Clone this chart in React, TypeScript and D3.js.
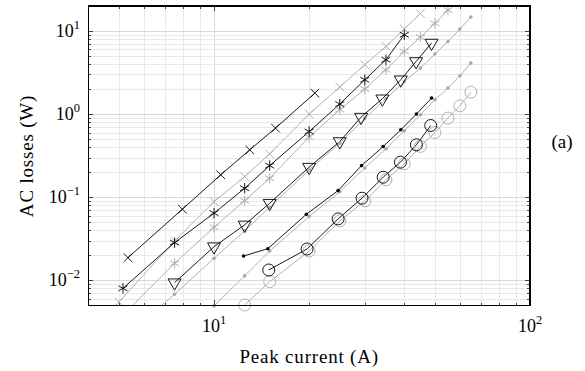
import React, { useEffect, useRef } from 'react';
import * as d3 from 'd3';

// axis ranges and tick labels
const xDomain = [4, 100];
const yDomain = [0.005, 20];
const xMajor = [10, 100];
const yMajor = [0.01, 0.1, 1, 10];
const xTickLabels = ['1', '2'];
const yTickLabels = ['\u22122', '\u22121', '0', '1'];

// [peak current (A), AC losses (W)]
const blackTimes = [[5.34, 0.0187], [7.94, 0.0717], [10.5, 0.186], [12.97, 0.371], [15.65, 0.678], [20.85, 1.79]];
const grayTimes = [[5, 0.00548], [7.5, 0.0298], [10, 0.0885], [12.5, 0.177], [15, 0.332], [20, 1.0], [25, 2.12], [30, 3.93], [35, 6.52], [40, 10.6], [45, 16.2]];
const blackAsterisk = [[5.15, 0.008], [7.5, 0.0284], [10, 0.0642], [12.5, 0.128], [15, 0.24], [20, 0.617], [25, 1.32], [30, 2.59], [35, 4.51], [40, 9.02]];
const grayAsterisk = [[5, 0.0034], [7.5, 0.016], [10, 0.0435], [12.5, 0.0907], [15, 0.169], [20, 0.528], [25, 1.13], [30, 2.0], [35, 3.42], [40, 5.68], [45, 8.42], [50, 12.35], [55, 17.9]];
const blackTriangle = [[7.5, 0.00936], [10, 0.0254], [12.5, 0.0464], [15, 0.0847], [20, 0.23], [25, 0.468], [29.2, 0.92], [34.1, 1.53], [39.0, 2.59], [43.6, 4.3], [48.8, 7.17]];
const grayDotsUpper = [[5, 0.0018], [7.5, 0.00678], [10, 0.0184], [12.5, 0.0393], [15, 0.0758], [20, 0.213], [25, 0.447], [30, 0.888], [35, 1.53], [40, 2.45], [45, 3.58], [50, 5.28], [55, 7.49], [60, 10.57], [65, 14.75]];
const blackDots = [[12.4, 0.0196], [14.8, 0.024], [19.6, 0.0624], [24.7, 0.12], [29.3, 0.24], [34.3, 0.407], [39.0, 0.647], [43.7, 1.0], [48.8, 1.56]];
const grayDotsLower = [[10, 0.0049], [12.5, 0.0113], [15, 0.0225], [20, 0.0584], [25, 0.116], [30, 0.225], [35, 0.382], [40, 0.629], [45, 0.981], [50, 1.49], [55, 2.06], [60, 2.89], [65, 4.12]];
const blackCircles = [[14.9, 0.0133], [19.7, 0.0238], [24.7, 0.0548], [29.4, 0.0973], [34.3, 0.174], [38.9, 0.264], [43.7, 0.427], [48.5, 0.729]];
const grayCircles = [[12.5, 0.00504], [15, 0.00962], [20, 0.0225], [25, 0.0518], [30, 0.0902], [35, 0.162], [40, 0.252], [45, 0.409], [50, 0.6], [55, 0.895], [60, 1.26], [65, 1.84]];

const GRAY = '#a8a8a8';
const FONT = "'Liberation Serif', serif";

const series = [
  { data: grayTimes, color: GRAY, mark: 'times' },
  { data: grayAsterisk, color: GRAY, mark: 'asterisk' },
  { data: grayDotsUpper, color: GRAY, mark: 'dot' },
  { data: grayDotsLower, color: GRAY, mark: 'dot' },
  { data: grayCircles, color: GRAY, mark: 'circle' },
  { data: blackTimes, color: '#000', mark: 'times' },
  { data: blackAsterisk, color: '#000', mark: 'asterisk' },
  { data: blackTriangle, color: '#000', mark: 'triangle' },
  { data: blackDots, color: '#000', mark: 'dot' },
  { data: blackCircles, color: '#000', mark: 'circle' },
];

function markPath(kind: string) {
  if (kind === 'times') {
    const r = 4.3;
    return `M${-r},${-r}L${r},${r}M${-r},${r}L${r},${-r}`;
  }
  if (kind === 'asterisk') {
    const r = 5.2, t = r / 2, u = t * Math.sqrt(3);
    return `M0,${-r}L0,${r}M${-u},${-t}L${u},${t}M${-u},${t}L${u},${-t}`;
  }
  if (kind === 'triangle') {
    const r = 7.5, w = r * 0.866;
    return `M${-w},${-r / 2}L${w},${-r / 2}L0,${r}Z`;
  }
  return '';
}

const App = () => {
  const svgRef = useRef<SVGSVGElement>(null);

  useEffect(() => {
    const width = 585;
    const height = 371;
    const left = 88.3, right = 530, top = 6, bottom = 305.3;

    const x = d3.scaleLog().domain(xDomain).range([left, right]);
    const y = d3.scaleLog().domain(yDomain).range([bottom, top]);

    const svg = d3.select(svgRef.current);
    svg.selectAll('*').remove();
    svg.attr('width', width).attr('height', height).attr('viewBox', [0, 0, width, height]);

    svg.append('defs').append('clipPath').attr('id', 'plot-clip')
      .append('rect').attr('x', left).attr('y', top).attr('width', right - left).attr('height', bottom - top);

    const isMajor = (v: number) => Math.abs(Math.log10(v) - Math.round(Math.log10(v))) < 1e-6;
    const xt = x.ticks().filter(v => v > xDomain[0] && v < xDomain[1]);
    const yt = y.ticks().filter(v => v > yDomain[0] && v < yDomain[1]);

    // grid
    const grid = svg.append('g').attr('shape-rendering', 'crispEdges');
    grid.selectAll('line.gx').data(xt).join('line')
      .attr('x1', d => Math.round(x(d)) + 0.5).attr('x2', d => Math.round(x(d)) + 0.5)
      .attr('y1', top).attr('y2', bottom)
      .attr('stroke', d => isMajor(d) ? '#d8d8d8' : '#e9e9e9').attr('stroke-width', 1);
    grid.selectAll('line.gy').data(yt).join('line')
      .attr('y1', d => Math.round(y(d)) + 0.5).attr('y2', d => Math.round(y(d)) + 0.5)
      .attr('x1', left).attr('x2', right)
      .attr('stroke', d => isMajor(d) ? '#d8d8d8' : '#e9e9e9').attr('stroke-width', 1);

    // series lines
    const line = d3.line<number[]>().x(d => x(d[0])).y(d => y(d[1]));
    const lines = svg.append('g').attr('clip-path', 'url(#plot-clip)');
    series.forEach(s => {
      lines.append('path')
        .attr('d', line(s.data))
        .attr('fill', 'none')
        .attr('stroke', s.color)
        .attr('stroke-width', 0.9)
        .attr('stroke-linejoin', 'round');
    });

    // markers (not clipped, like pgfplots)
    const marks = svg.append('g');
    series.forEach(s => {
      const pts = s.data.filter(d => d[1] >= yDomain[0] * 0.98);
      const g = marks.append('g');
      if (s.mark === 'circle') {
        g.selectAll('circle').data(pts).join('circle')
          .attr('cx', d => x(d[0])).attr('cy', d => y(d[1])).attr('r', 6)
          .attr('fill', 'none').attr('stroke', s.color).attr('stroke-width', 0.9);
      } else if (s.mark === 'dot') {
        g.selectAll('circle').data(pts).join('circle')
          .attr('cx', d => x(d[0])).attr('cy', d => y(d[1])).attr('r', 1.8)
          .attr('fill', s.color);
      } else {
        g.selectAll('path').data(pts).join('path')
          .attr('transform', d => `translate(${x(d[0])},${y(d[1])})`)
          .attr('d', markPath(s.mark))
          .attr('fill', 'none').attr('stroke', s.color).attr('stroke-width', 0.9);
      }
    });

    // frame and ticks
    const axes = svg.append('g').attr('stroke', '#000').attr('shape-rendering', 'crispEdges');
    axes.append('rect').attr('x', left).attr('y', top).attr('width', right - left).attr('height', bottom - top)
      .attr('fill', 'none').attr('stroke-width', 1.1);
    const tickLen = (d: number) => isMajor(d) ? 5 : 2.8;
    xt.forEach(d => {
      const px = Math.round(x(d)) + 0.5;
      axes.append('line').attr('x1', px).attr('x2', px).attr('y1', bottom).attr('y2', bottom - tickLen(d)).attr('stroke-width', 0.7);
      axes.append('line').attr('x1', px).attr('x2', px).attr('y1', top).attr('y2', top + tickLen(d)).attr('stroke-width', 0.7);
    });
    yt.forEach(d => {
      const py = Math.round(y(d)) + 0.5;
      axes.append('line').attr('y1', py).attr('y2', py).attr('x1', left).attr('x2', left + tickLen(d)).attr('stroke-width', 0.7);
      axes.append('line').attr('y1', py).attr('y2', py).attr('x1', right).attr('x2', right - tickLen(d)).attr('stroke-width', 0.7);
    });

    // tick labels
    const labels = svg.append('g').attr('font-family', FONT).attr('fill', '#000');
    xMajor.forEach((v, i) => {
      const t = labels.append('text').attr('x', x(v)).attr('y', 332).attr('text-anchor', 'middle').attr('font-size', 18);
      t.append('tspan').text('10');
      t.append('tspan').attr('dy', -8).attr('font-size', 12.5).text(xTickLabels[i]);
    });
    yMajor.forEach((v, i) => {
      const t = labels.append('text').attr('x', 80).attr('y', y(v) + 6).attr('text-anchor', 'end').attr('font-size', 18);
      t.append('tspan').text('10');
      t.append('tspan').attr('dy', -8).attr('font-size', 12.5).text(yTickLabels[i]);
    });

    // titles
    labels.append('text').attr('x', (left + right) / 2).attr('y', 363).attr('text-anchor', 'middle')
      .attr('font-size', 19).attr('letter-spacing', 0.8).text('Peak current (A)');
    labels.append('text').attr('transform', `translate(33,156) rotate(-90)`).attr('text-anchor', 'middle')
      .attr('font-size', 19).attr('letter-spacing', 0.8).text('AC losses (W)');
    labels.append('text').attr('x', 562).attr('y', 148).attr('text-anchor', 'middle')
      .attr('font-size', 19).text('(a)');
  }, []);

  return (
    <div style={{ position: 'absolute', left: 0, top: 0 }}>
      <svg ref={svgRef}></svg>
    </div>
  );
};

export default App;
